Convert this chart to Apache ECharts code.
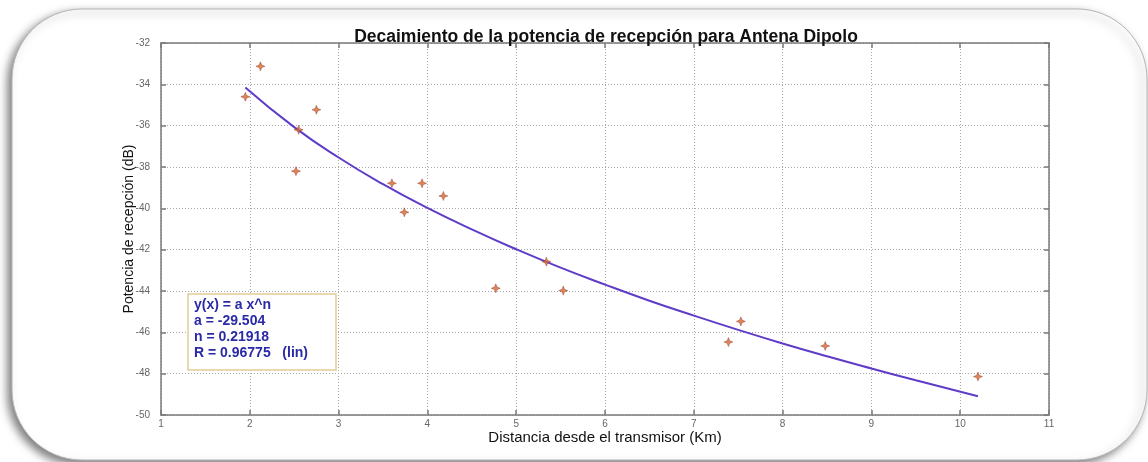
<!DOCTYPE html>
<html>
<head>
<meta charset="utf-8">
<script src="https://cdn.jsdelivr.net/npm/echarts@6/dist/echarts.min.js"></script>
<style>
html,body{margin:0;padding:0;background:#fff;}
#c{width:1148px;height:462px;}
</style>
</head>
<body>
<div id="c"></div>
<script>
// measured points: distance (Km), received power (dB)
const distKm = [1.95, 2.12, 2.75, 2.55, 2.52, 3.60, 3.74, 3.94, 4.18, 4.77, 5.34, 5.53, 7.39, 7.53, 8.48, 10.20];
const powerDb = [-34.6, -33.13, -35.23, -36.2, -38.2, -38.79, -40.19, -38.79, -39.4, -43.87, -42.58, -43.98, -46.47, -45.47, -46.66, -48.14];
// fitted curve
const fitX = [1.95, 2.5, 3, 3.5, 4, 4.5, 5, 5.5, 6, 6.5, 7, 7.5, 8, 8.5, 9, 9.5, 10.2];
const fitY = [-34.15, -36.07, -37.54, -38.83, -39.98, -41.02, -41.98, -42.87, -43.69, -44.47, -45.19, -45.88, -46.54, -47.16, -47.75, -48.32, -49.09];
const legendLines = ['y(x) = a x^n', 'a = -29.504', 'n = 0.21918', 'R = 0.96775   (lin)'];
const titleText = 'Decaimiento de la potencia de recepción para Antena Dipolo';
const xName = 'Distancia desde el transmisor (Km)';
const yName = 'Potencia de recepción (dB)';

const chart = echarts.init(document.getElementById('c'), null, {renderer: 'canvas'});
const font = 'Liberation Sans, Arial, sans-serif';
const gridLine = {show: true, lineStyle: {color: '#a8a8a8', type: [1, 2], width: 1}};
const axisLineStyle = {show: true, lineStyle: {color: '#7a7a7a', width: 1.5}};
const tickStyle = {show: true, inside: true, length: 5, lineStyle: {color: '#7a7a7a', width: 1.5}};

const option = {
  backgroundColor: '#fff',
  animation: false,
  graphic: [
    {
      type: 'rect', z: -10, silent: true,
      shape: {x: 12, y: 9, width: 1135, height: 451, r: 70},
      style: {fill: '#fff', stroke: '#b5b5b5', lineWidth: 1,
        shadowBlur: 8, shadowOffsetX: -4, shadowOffsetY: 4, shadowColor: 'rgba(0,0,0,0.5)'}
    },
    {
      type: 'rect', z: 10, silent: true,
      shape: {x: 188, y: 294, width: 148, height: 76},
      style: {fill: '#fff', stroke: '#e2cc96', lineWidth: 1.5}
    },
    {
      type: 'text', z: 11, silent: true, left: 194, top: 297,
      style: {text: legendLines.join('\n'), fill: '#2a2aa6', font: 'bold 14px ' + font, lineHeight: 16}
    }
  ],
  title: {
    text: titleText, left: 601, top: 23, textAlign: 'center',
    textStyle: {fontFamily: font, fontSize: 17.5, fontWeight: 'bold', color: '#111'}
  },
  grid: {left: 161, right: 99, top: 43, bottom: 47, show: false},
  xAxis: [
    {
      type: 'value', min: 1, max: 11, interval: 1, position: 'bottom',
      axisLine: axisLineStyle, axisTick: tickStyle,
      axisLabel: {color: '#666', fontSize: 10, fontFamily: font, margin: 4},
      splitLine: gridLine,
      name: xName, nameLocation: 'middle', nameGap: 15, nameMoveOverlap: false,
      nameTextStyle: {fontFamily: font, fontSize: 15, color: '#111', verticalAlign: 'top'}
    },
    {
      type: 'value', min: 1, max: 11, interval: 1, position: 'top',
      axisLine: axisLineStyle, axisTick: tickStyle,
      axisLabel: {show: false}, splitLine: {show: false}
    }
  ],
  yAxis: [
    {
      type: 'value', min: -50, max: -32, interval: 2, position: 'left',
      axisLine: axisLineStyle, axisTick: tickStyle,
      axisLabel: {color: '#666', fontSize: 10, fontFamily: font, margin: 11},
      splitLine: gridLine,
      name: yName, nameLocation: 'middle', nameGap: 25, nameRotate: 90, nameMoveOverlap: false,
      nameTextStyle: {fontFamily: font, fontSize: 14, color: '#111'}
    },
    {
      type: 'value', min: -50, max: -32, interval: 2, position: 'right',
      axisLine: axisLineStyle, axisTick: tickStyle,
      axisLabel: {show: false}, splitLine: {show: false}
    }
  ],
  series: [
    {
      type: 'line', xAxisIndex: 0, yAxisIndex: 0, smooth: true, showSymbol: false,
      data: fitX.map((x, i) => [x, fitY[i]]),
      lineStyle: {color: '#5f3cc8', width: 2}, z: 3
    },
    {
      type: 'scatter', xAxisIndex: 0, yAxisIndex: 0,
      data: distKm.map((x, i) => [x, powerDb[i]]),
      symbol: 'path://M0,-10 L2.8,-2.8 L10,0 L2.8,2.8 L0,10 L-2.8,2.8 L-10,0 L-2.8,-2.8 Z',
      symbolSize: 9,
      itemStyle: {color: '#d8652e', borderColor: '#8a3020', borderWidth: 0.5}, z: 4
    }
  ]
};
chart.setOption(option);
</script>
</body>
</html>
